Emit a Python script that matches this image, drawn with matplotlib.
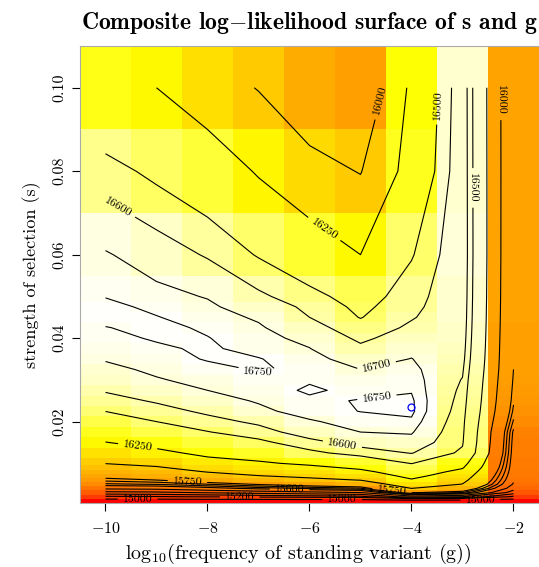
import colorsys
import matplotlib
matplotlib.use("Agg")
import matplotlib.pyplot as plt
import numpy as np
from matplotlib.colors import ListedColormap

plt.rcParams['font.family'] = ['cmr10', 'DejaVu Serif']
plt.rcParams['mathtext.fontset'] = 'cm'
plt.rcParams['axes.formatter.use_mathtext'] = True

# --- grid (columns = log10 g, rows = s) ---
log_g = [-10, -9, -8, -7, -6, -5, -4, -3, -2]
s_vals = [0.001, 0.002, 0.003, 0.004, 0.005, 0.006, 0.007, 0.008, 0.009, 0.010,
          0.0125, 0.015, 0.0175, 0.02, 0.0225, 0.025, 0.0275, 0.03, 0.0325, 0.035,
          0.0375, 0.04, 0.0425, 0.045, 0.0475, 0.05, 0.06, 0.08, 0.10]

# composite log-likelihood, one list per column (s ascending)
ll_g10 = [14860, 15180, 15370, 15520, 15640, 15720, 15790, 15860, 15935, 16005,
          16130, 16245, 16345, 16430, 16502, 16560, 16610, 16655, 16684, 16705,
          16722, 16737, 16748, 16766, 16762, 16748, 16708, 16545, 16330]
ll_g9 = [14860, 15190, 15380, 15530, 15655, 15750, 15830, 15905, 15980, 16060,
         16200, 16320, 16420, 16500, 16560, 16612, 16655, 16695, 16712, 16728,
         16742, 16755, 16765, 16752, 16740, 16725, 16655, 16470, 16250]
ll_g8 = [14870, 15210, 15410, 15570, 15700, 15820, 15920, 16010, 16095, 16170,
         16300, 16400, 16495, 16565, 16620, 16665, 16700, 16718, 16735, 16754,
         16758, 16752, 16742, 16730, 16715, 16695, 16590, 16390, 16110]
ll_g7 = [14870, 15230, 15440, 15620, 15760, 15880, 15995, 16075, 16150, 16220,
         16360, 16470, 16560, 16620, 16680, 16708, 16725, 16740, 16754, 16753,
         16732, 16722, 16710, 16690, 16655, 16620, 16490, 16230, 15990]
ll_g6 = [14875, 15250, 15470, 15660, 15810, 15950, 16045, 16120, 16200, 16290,
         16470, 16570, 16650, 16690, 16735, 16740, 16758, 16744, 16742, 16720,
         16702, 16680, 16640, 16600, 16580, 16540, 16380, 16080, 15820]
ll_g5 = [14880, 15270, 15500, 15690, 15860, 16005, 16110, 16200, 16290, 16380,
         16550, 16640, 16700, 16735, 16751, 16753, 16735, 16725, 16700, 16670,
         16620, 16580, 16540, 16495, 16470, 16440, 16250, 15990, 15760]
ll_g4 = [14900, 15450, 15760, 16000, 16130, 16230, 16310, 16380, 16440, 16505,
         16605, 16670, 16708, 16740, 16763, 16760, 16746, 16735, 16720, 16702,
         16680, 16650, 16618, 16592, 16575, 16560, 16490, 16345, 16300]
ll_g3 = [14900, 15400, 15700, 15870, 15995, 16060, 16120, 16190, 16270, 16330,
         16480, 16512, 16525, 16535, 16550, 16565, 16580, 16595, 16615, 16635,
         16648, 16658, 16666, 16672, 16676, 16680, 16688, 16685, 16682]
ll_g2 = [14860, 15180, 15350, 15440, 15490, 15515, 15530, 15540, 15545, 15550,
         15560, 15570, 15585, 15640, 15685, 15710, 15724, 15738, 15750, 15754,
         15757, 15760, 15763, 15766, 15768, 15770, 15774, 15776, 15775]

levels = [15000, 15200, 15300, 15400, 15500, 15600, 15650, 15700, 15750, 16000,
          16250, 16500, 16600, 16700, 16750]

# maximum marked with a circle
best_g = -4.0
best_s = 0.0234

Z = np.column_stack([ll_g10, ll_g9, ll_g8, ll_g7, ll_g6, ll_g5, ll_g4, ll_g3, ll_g2])
g = np.array(log_g, dtype=float)
s = np.array(s_vals)

# R-like cell edges (midpoints)
g_edges = np.concatenate([[g[0] - 0.5], (g[:-1] + g[1:]) / 2, [g[-1] + 0.5]])
s_mid = (s[:-1] + s[1:]) / 2
s_edges = np.concatenate([[s[0] - (s[1] - s[0]) / 2], s_mid, [s[-1] + (s[-1] - s[-2]) / 2]])


def heat_colors(n):
    # same recipe as R's heat.colors()
    j = n // 4
    i = n - j
    cols = [colorsys.hsv_to_rgb(h, 1, 1) for h in np.linspace(0, 1 / 6, i)]
    cols += [colorsys.hsv_to_rgb(1 / 6, sat, 1)
             for sat in np.linspace(1 - 1 / (2 * j), 1 / (2 * j), j)]
    return ListedColormap(cols)


fig = plt.figure(figsize=(5.39, 5.67), dpi=100)
ax = fig.add_axes([80 / 539, 64 / 567, 459 / 539, 457 / 567])

ax.pcolormesh(g_edges, s_edges, Z, cmap=heat_colors(120), vmin=Z.min(), vmax=Z.max(),
              shading='flat')
cs = ax.contour(g, s, Z, levels=levels, colors='black', linewidths=0.8)

label_pos = [(-9.76, 0.0713), (-5.76, 0.0653), (-4.62, 0.097), (-3.48, 0.0959),
             (-2.81, 0.076), (-2.26, 0.097), (-7.01, 0.032), (-4.68, 0.033),
             (-4.68, 0.026), (-5.36, 0.0142), (-9.37, 0.014), (-8.39, 0.0066),
             (-9.37, 0.0014), (-7.37, 0.002), (-6.39, 0.0037), (-4.38, 0.0037),
             (-5.36, 0.0012), (-2.65, 0.0015)]
ax.clabel(cs, fmt='%d', fontsize=8.5, inline=True, manual=label_pos)

ax.plot(best_g, best_s, 'o', mfc='none', mec='blue', ms=5, mew=0.9)

ax.set_xlim(g_edges[0], g_edges[-1])
ax.set_ylim(s_edges[0], s_edges[-1])
ax.set_xticks([-10, -8, -6, -4, -2])
ax.set_yticks([0.02, 0.04, 0.06, 0.08, 0.10])
ax.set_yticklabels(['0.02', '0.04', '0.06', '0.08', '0.10'], rotation=90, va='center')
ax.tick_params(direction='out', length=6, width=0.8, labelsize=11.5)
ax.tick_params(axis='x', pad=7)
ax.tick_params(axis='y', pad=4)
for sp in ax.spines.values():
    sp.set_color('#aaaaaa')
    sp.set_linewidth(0.8)

ax.set_xlabel(r'log$_{10}$(frequency of standing variant (g))', fontsize=14.4, labelpad=4)
ax.xaxis.label.set_x(0.475)
ax.set_ylabel('strength of selection (s)', fontsize=13, labelpad=8)
ax.set_title(r'Composite log$-$likelihood surface of s and g', fontsize=17,
             fontfamily=['cmb10', 'DejaVu Serif'], pad=12)

fig.savefig('out.png', dpi=100)
